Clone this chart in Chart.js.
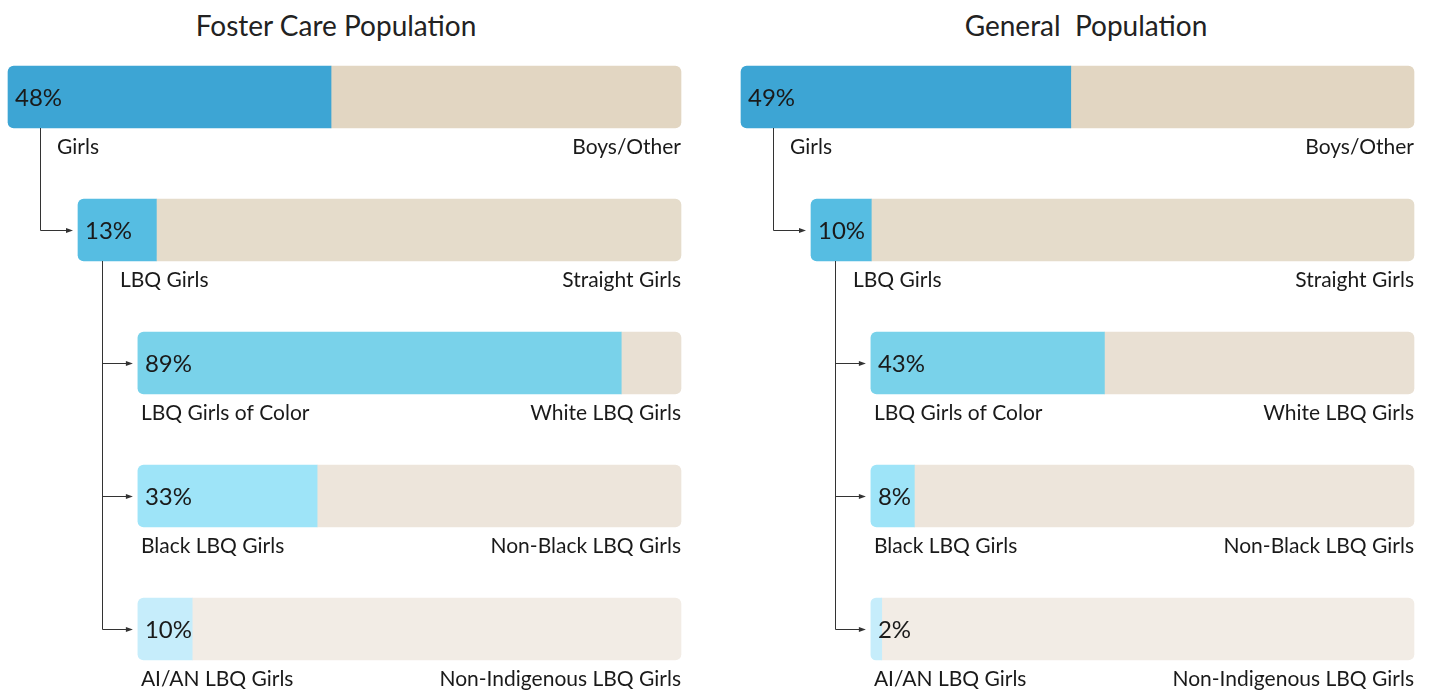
<!DOCTYPE html>
<html>
<head>
<meta charset="utf-8">
<script src="https://cdn.jsdelivr.net/npm/chart.js@4.4.0/dist/chart.umd.min.js"></script>
<style>
  body { margin: 0; background: #fff; font-family: Lato, sans-serif; }
  .wrap { position: relative; width: 1432px; height: 690px; overflow: hidden; }
  canvas { position: absolute; top: 0; }
  .title { position: absolute; top: 9px; line-height: 32px; font-size: 28px; color: #222; text-align: center; white-space: pre; }
</style>
</head>
<body>
<div class="wrap">
  <div class="title" id="titleLeft" style="left:0;width:672px"></div>
  <div class="title" id="titleRight" style="left:733px;width:706px"></div>
  <canvas id="fosterChart" width="699" height="690" style="left:0"></canvas>
  <canvas id="generalChart" width="699" height="690" style="left:733px"></canvas>
</div>
<script>
// data
const panelTitles = ['Foster Care Population', 'General  Population'];
const groupLabels = ['Girls', 'LBQ Girls', 'LBQ Girls of Color', 'Black LBQ Girls', 'AI/AN LBQ Girls'];
const otherLabels = ['Boys/Other', 'Straight Girls', 'White LBQ Girls', 'Non-Black LBQ Girls', 'Non-Indigenous LBQ Girls'];
const fosterValues = [48, 13, 89, 33, 10];
const generalValues = [49, 10, 43, 8, 2];

// layout (x axis units 0-100 across the widest bar)
const indent = [0, 10.4, 19.3, 19.3, 19.3];
const shareColors = ['#3da5d4', '#56bde2', '#79d2ea', '#9ee4f8', '#c6edfb'];
const restColors = ['#e2d6c2', '#e5dccb', '#e9e0d3', '#ede5db', '#f2ece5'];
const labelOffset = [49, 42, 3, 3, 3];
const connectors = [
  { from: 0, offset: 32, to: [1] },
  { from: 1, offset: 24, to: [2, 3, 4] }
];

document.getElementById('titleLeft').textContent = panelTitles[0];
document.getElementById('titleRight').textContent = panelTitles[1];

const treePlugin = {
  id: 'tree',
  afterDatasetsDraw(chart) {
    const ctx = chart.ctx;
    const bars = chart.getDatasetMeta(0).data;
    const values = chart.data.datasets[0].pcts;
    const xEnd = chart.scales.x.getPixelForValue(100);
    ctx.save();
    ctx.fillStyle = '#1a1a1a';
    ctx.textBaseline = 'middle';
    bars.forEach((bar, i) => {
      const p = bar.getProps(['x', 'y', 'base', 'height'], true);
      const half = p.height / 2;
      ctx.font = '24px Lato';
      ctx.textAlign = 'left';
      ctx.fillText(values[i] + '%', p.base + 7, p.y + 1);
      ctx.font = '21px Lato';
      ctx.fillText(groupLabels[i], p.base + labelOffset[i], p.y + half + 19);
      ctx.textAlign = 'right';
      ctx.fillText(otherLabels[i], xEnd, p.y + half + 19);
    });
    // connectors
    ctx.strokeStyle = '#333';
    ctx.fillStyle = '#333';
    ctx.lineWidth = 1;
    connectors.forEach(c => {
      const src = bars[c.from].getProps(['y', 'base', 'height'], true);
      const vx = Math.round(src.base + c.offset) + 0.5;
      const lastY = bars[c.to[c.to.length - 1]].getProps(['y'], true).y;
      ctx.beginPath();
      ctx.moveTo(vx, src.y + src.height / 2);
      ctx.lineTo(vx, Math.round(lastY) + 0.5);
      ctx.stroke();
      c.to.forEach(t => {
        const dst = bars[t].getProps(['y', 'base'], true);
        const y = Math.round(dst.y) + 0.5;
        const tip = dst.base - 5;
        ctx.beginPath();
        ctx.moveTo(vx, y);
        ctx.lineTo(tip - 5, y);
        ctx.stroke();
        ctx.beginPath();
        ctx.moveTo(tip, y);
        ctx.lineTo(tip - 7, y - 2.5);
        ctx.lineTo(tip - 7, y + 2.5);
        ctx.closePath();
        ctx.fill();
      });
    });
    ctx.restore();
  }
};

function makeChart(id, values) {
  const shareData = values.map((v, i) => [indent[i], indent[i] + v * (100 - indent[i]) / 100]);
  const restData = shareData.map(d => [d[1], 100]);
  return new Chart(document.getElementById(id), {
    type: 'bar',
    data: {
      labels: groupLabels,
      datasets: [
        {
          data: shareData,
          pcts: values,
          backgroundColor: shareColors,
          borderSkipped: false,
          borderRadius: { topLeft: 6, bottomLeft: 6, topRight: 0, bottomRight: 0 },
          grouped: false,
          clip: false
        },
        {
          data: restData,
          backgroundColor: restColors,
          borderSkipped: false,
          borderRadius: { topLeft: 0, bottomLeft: 0, topRight: 6, bottomRight: 6 },
          grouped: false,
          clip: false
        }
      ]
    },
    options: {
      indexAxis: 'y',
      responsive: false,
      animation: false,
      devicePixelRatio: 1,
      barThickness: 62,
      layout: { padding: { left: 8, right: 18, top: 97, bottom: 61 } },
      scales: {
        x: { type: 'linear', min: 0, max: 100, display: false },
        y: { type: 'category', offset: false, display: false }
      },
      plugins: { legend: { display: false }, tooltip: { enabled: false } }
    },
    plugins: [treePlugin]
  });
}

makeChart('fosterChart', fosterValues);
makeChart('generalChart', generalValues);
</script>
</body>
</html>
